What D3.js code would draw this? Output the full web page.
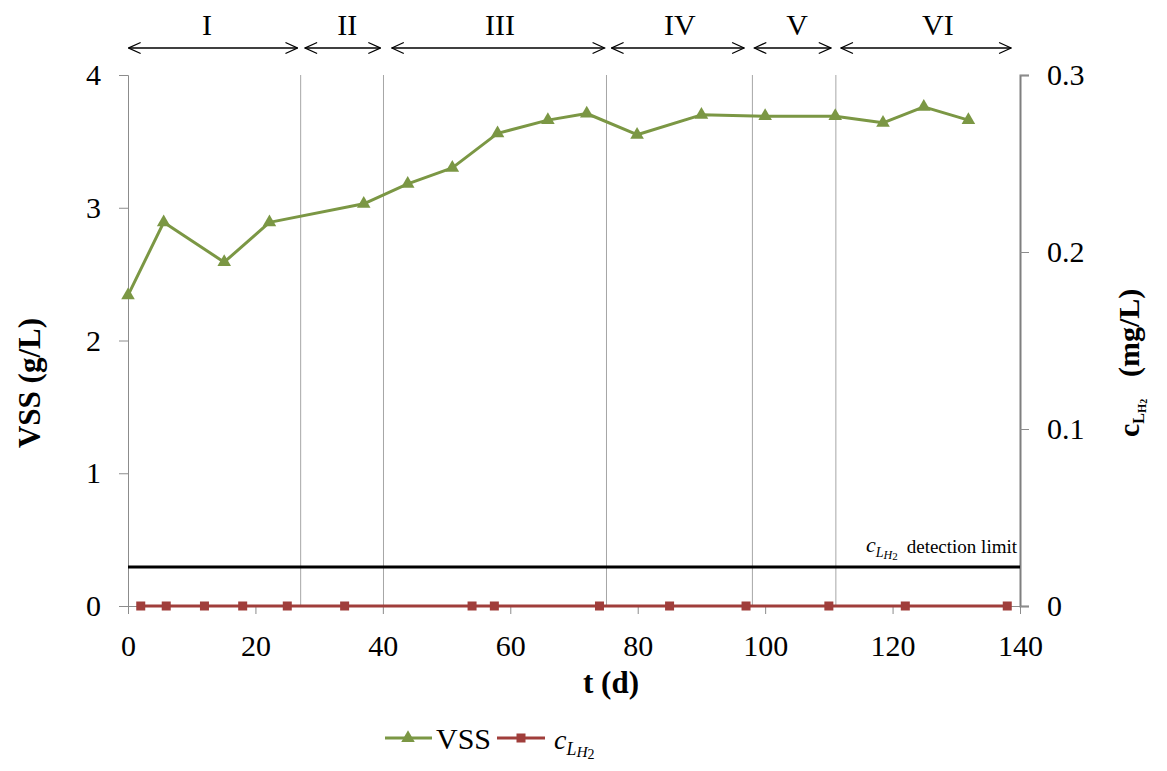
<!DOCTYPE html>
<html>
<head>
<meta charset="utf-8">
<script src="https://cdn.jsdelivr.net/npm/d3@7"></script>
<style>
  html, body { margin: 0; padding: 0; background: #fff; }
  svg text { font-family: "Liberation Serif", "Times New Roman", serif; }
</style>
</head>
<body>
<svg id="chart" width="1167" height="771"></svg>
<script>
// ---- data ----
const vssDays = [0, 5.6, 15.1, 22.2, 37, 43.9, 50.9, 58, 65.9, 72, 79.9, 90, 100, 111, 118.5, 124.9, 131.9];
const vssValues = [2.34, 2.89, 2.59, 2.89, 3.03, 3.18, 3.30, 3.56, 3.66, 3.71, 3.55, 3.70, 3.69, 3.69, 3.64, 3.76, 3.66];
const h2Days = [2, 6, 12, 18, 25, 34, 54, 57.5, 74, 85, 97, 110, 122, 138];
const h2Values = [0, 0, 0, 0, 0, 0, 0, 0, 0, 0, 0, 0, 0, 0];
const detectionLimit = [0.022];
const phaseBounds = [27.1, 40.1, 75.1, 98, 111.1];
const phaseLabels = ["I", "II", "III", "IV", "V", "VI"];
const phaseLabelDays = [12.4, 34.4, 58.4, 86.6, 105, 127.1];
const phaseArrowStarts = [0.1, 27.8, 41.4, 75.9, 98.3, 111.9];
const phaseArrowEnds = [26.6, 39.6, 74.8, 96.7, 110.3, 138.6];
const xTicks = [0, 20, 40, 60, 80, 100, 120, 140];
const yLeftTicks = [0, 1, 2, 3, 4];
const yRightTicks = [0, 0.1, 0.2, 0.3];

const svg = d3.select("#chart");
const green = "#7b9744", red = "#a03e3b", axisGray = "#8c8c8c";

const x = d3.scaleLinear().domain([0, 140]).range([128, 1020]);
const yL = d3.scaleLinear().domain([0, 4]).range([606, 75]);
const yR = d3.scaleLinear().domain([0, 0.3]).range([606, 75]);

// arrow marker defs
const defs = svg.append("defs");
["arrowEnd", "arrowStart"].forEach((id, i) => {
  defs.append("marker").attr("id", id)
    .attr("viewBox", "0 0 14 14").attr("refX", i === 0 ? 13 : 1).attr("refY", 7)
    .attr("markerWidth", 14).attr("markerHeight", 14).attr("markerUnits", "userSpaceOnUse")
    .attr("orient", "auto")
    .append("path")
    .attr("d", i === 0 ? "M1,1.5 L13,7 L1,12.5" : "M13,1.5 L1,7 L13,12.5")
    .attr("fill", "none").attr("stroke", "#000").attr("stroke-width", 1.3);
});

// phase boundary vertical lines
svg.append("g").selectAll("line").data(phaseBounds).join("line")
  .attr("x1", d => x(d)).attr("x2", d => x(d))
  .attr("y1", yL(4)).attr("y2", yL(0))
  .attr("stroke", "#a6a6a6").attr("stroke-width", 1);

// x axis
const xAxis = svg.append("g").attr("transform", `translate(0,${yL(0)})`)
  .call(d3.axisBottom(x).tickValues(xTicks).tickSize(8).tickPadding(21).tickFormat(d3.format("d")));
xAxis.select(".domain").attr("stroke", axisGray);
xAxis.selectAll(".tick line").attr("stroke", axisGray);
xAxis.selectAll("text").attr("font-size", 30).attr("fill", "#000");

// left axis
const yAxisL = svg.append("g").attr("transform", `translate(${x(0)},0)`)
  .call(d3.axisLeft(yL).tickValues(yLeftTicks).tickSize(9).tickPadding(18).tickFormat(d3.format("d")));
yAxisL.select(".domain").attr("stroke", axisGray);
yAxisL.selectAll(".tick line").attr("stroke", axisGray);
yAxisL.selectAll("text").attr("font-size", 30).attr("fill", "#000");

// right axis
const yAxisR = svg.append("g").attr("transform", `translate(${x(140)},0)`)
  .call(d3.axisRight(yR).tickValues(yRightTicks).tickSize(9).tickPadding(18)
    .tickFormat(d => d === 0 ? "0" : d3.format(".1f")(d)));
yAxisR.select(".domain").attr("stroke", "#7f7f7f").attr("stroke-width", 2);
yAxisR.selectAll(".tick line").attr("stroke", axisGray);
yAxisR.selectAll("text").attr("font-size", 30).attr("fill", "#000");

// detection limit line
svg.append("g").selectAll("line").data(detectionLimit).join("line")
  .attr("x1", x(0)).attr("x2", x(140))
  .attr("y1", d => yR(d)).attr("y2", d => yR(d))
  .attr("stroke", "#000").attr("stroke-width", 3);

// helper for italic c_{L_{H_2}}
function cLH2(g, size) {
  const t = g.append("text").attr("font-size", size).attr("font-family", "DejaVu Serif");
  t.append("tspan").text("c").attr("font-style", "italic");
  t.append("tspan").text("L").attr("font-style", "italic")
    .attr("font-size", size * 0.64).attr("dy", size * 0.22);
  t.append("tspan").text("H").attr("font-style", "italic")
    .attr("font-size", size * 0.55).attr("dy", size * 0.08);
  t.append("tspan").text("2")
    .attr("font-size", size * 0.5).attr("dy", size * 0.04);
  return t;
}

// detection limit label
const dl = svg.append("g");
cLH2(dl.append("g").attr("transform", `translate(866,${yR(detectionLimit[0]) - 15})`), 22);
dl.append("text").attr("x", 1017).attr("y", yR(detectionLimit[0]) - 14)
  .attr("text-anchor", "end").attr("font-size", 19).text("detection limit");

// lines
const lineVss = d3.line().x((d, i) => x(vssDays[i])).y(d => yL(d));
svg.append("path").datum(vssValues).attr("d", lineVss)
  .attr("fill", "none").attr("stroke", green).attr("stroke-width", 3).attr("stroke-linejoin", "round");
const lineH2 = d3.line().x((d, i) => x(h2Days[i])).y(d => yR(d));
svg.append("path").datum(h2Values).attr("d", lineH2)
  .attr("fill", "none").attr("stroke", red).attr("stroke-width", 3);

const tri = d3.symbol().type(d3.symbolTriangle).size(80);
svg.append("g").selectAll("path").data(vssValues).join("path")
  .attr("d", tri)
  .attr("transform", (d, i) => `translate(${x(vssDays[i])},${yL(d)})`)
  .attr("fill", green);
svg.append("g").selectAll("rect").data(h2Values).join("rect")
  .attr("x", (d, i) => x(h2Days[i]) - 4.5).attr("y", d => yR(d) - 4.5)
  .attr("width", 9).attr("height", 9).attr("fill", red);

// phase arrows
const ph = svg.append("g");
ph.selectAll("line").data(phaseLabels).join("line")
  .attr("x1", (d, i) => x(phaseArrowStarts[i])).attr("x2", (d, i) => x(phaseArrowEnds[i]))
  .attr("y1", 48).attr("y2", 48)
  .attr("stroke", "#000").attr("stroke-width", 1.3)
  .attr("marker-start", "url(#arrowStart)").attr("marker-end", "url(#arrowEnd)");
ph.selectAll("text").data(phaseLabels).join("text")
  .attr("x", (d, i) => x(phaseLabelDays[i]))
  .attr("y", 35).attr("text-anchor", "middle").attr("font-size", 30).text(d => d);

// axis titles
svg.append("text").attr("x", 583).attr("y", 693)
  .attr("font-size", 31).attr("font-weight", "bold").text("t (d)");
svg.append("text").attr("transform", `translate(40,318) rotate(-90)`)
  .attr("text-anchor", "end").attr("font-size", 31).attr("font-weight", "bold").text("VSS (g/L)");

// right title
const rt = svg.append("g").attr("transform", `translate(1139,437) rotate(-90)`)
  .attr("font-weight", "bold");
const rtc = rt.append("text").attr("font-size", 30);
rtc.append("tspan").text("c");
rtc.append("tspan").text("L").attr("font-size", 16).attr("dy", 5);
rtc.append("tspan").text("H").attr("font-size", 12).attr("dy", 2);
rtc.append("tspan").text("2").attr("font-size", 10).attr("dy", 1);
rt.append("text").attr("x", 60).attr("y", 0).attr("font-size", 30).text("(mg/L)");

// legend
const lg = svg.append("g");
lg.append("line").attr("x1", 385).attr("x2", 432).attr("y1", 738).attr("y2", 738)
  .attr("stroke", green).attr("stroke-width", 3);
lg.append("path").attr("d", tri).attr("transform", "translate(408,738)").attr("fill", green);
lg.append("text").attr("x", 436).attr("y", 749).attr("font-size", 30).text("VSS");
lg.append("line").attr("x1", 497).attr("x2", 545).attr("y1", 738).attr("y2", 738)
  .attr("stroke", red).attr("stroke-width", 3);
lg.append("rect").attr("x", 516.5).attr("y", 733.5).attr("width", 9).attr("height", 9).attr("fill", red);
cLH2(lg.append("g").attr("transform", "translate(554,749)"), 28);
</script>
</body>
</html>
